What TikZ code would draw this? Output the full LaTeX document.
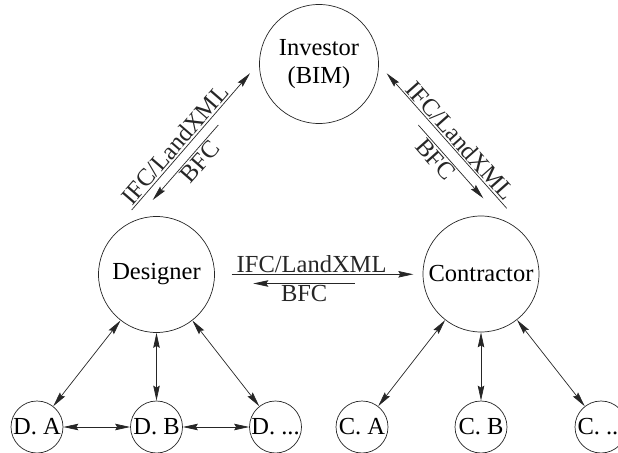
\documentclass[tikz,border=0pt]{standalone}
\usepackage{fontspec}
\setmainfont{Liberation Serif}
\usetikzlibrary{arrows.meta}
\begin{document}
\begin{tikzpicture}[x=1bp,y=-1bp,
  font=\fontsize{24.5bp}{27.5bp}\selectfont,
  >={Stealth[length=15bp,width=6.5bp,inset=2bp]},
  bignode/.style={circle,draw=black!85,line width=0.7bp,inner sep=0pt,minimum size=116bp,align=center},
  smallnode/.style={circle,draw=black!85,line width=0.7bp,inner sep=0pt,minimum size=52bp},
  conn/.style={line width=0.7bp,black!85},
  lbl/.style={inner sep=1.5bp,sloped}]
\useasboundingbox (0,0) rectangle (618,453);
% main nodes
\node[bignode,minimum size=119bp] (inv) at (319,64) {Investor\\(BIM)};
\node[bignode] (des) at (156.5,274.5) {Designer};
\node[bignode] (con) at (481,274) {Contractor};
% small nodes
\node[smallnode] (da) at (37,427) {D. A};
\node[smallnode] (db) at (156.5,427) {D. B};
\node[smallnode] (dc) at (275.5,427) {D. ...};
\node[smallnode] (ca) at (362,427) {C. A};
\node[smallnode] (cb) at (481,427) {C. B};
\node[smallnode] (cc) at (601,427) {C. ...};
% coordinates for the parallel exchange arrows
\coordinate (l1a) at (131.7,210);
\coordinate (l1b) at (250,73.3);
\coordinate (l2a) at (152.7,200);
\coordinate (l2b) at (218.3,125);
\coordinate (r1a) at (386.7,73.3);
\coordinate (r1b) at (506.7,208.3);
\coordinate (r2a) at (418.3,125);
\coordinate (r2b) at (483.3,198.3);
\coordinate (h1a) at (231.7,274.3);
\coordinate (h1b) at (413.3,274.3);
\coordinate (h2a) at (253.3,283.5);
\coordinate (h2b) at (355,283.5);
% Designer - Investor
\draw[conn,->] (l1a) -- node[lbl,above,pos=0.43] {IFC/LandXML} (l1b);
\draw[conn,<-] (l2a) -- node[lbl,below,pos=0.6] {BFC} (l2b);
% Investor - Contractor
\draw[conn,<-] (r1a) -- node[lbl,above,pos=0.55] {IFC/LandXML} (r1b);
\draw[conn,->] (r2a) -- node[lbl,below,pos=0.38] {BFC} (r2b);
% Designer - Contractor
\draw[conn,->] (h1a) -- node[lbl,above,pos=0.44] {IFC/LandXML} (h1b);
\draw[conn,<-] (h2a) -- node[lbl,below,pos=0.5] {BFC} (h2b);
% sub connections
\draw[conn,<->] (des) -- (da);
\draw[conn,<->] (des) -- (db);
\draw[conn,<->] (des) -- (dc);
\draw[conn,<->] (da) -- (db);
\draw[conn,<->] (db) -- (dc);
\draw[conn,<->] (con) -- (ca);
\draw[conn,<->] (con) -- (cb);
\draw[conn,<->] (con) -- (cc);
\end{tikzpicture}
\end{document}
